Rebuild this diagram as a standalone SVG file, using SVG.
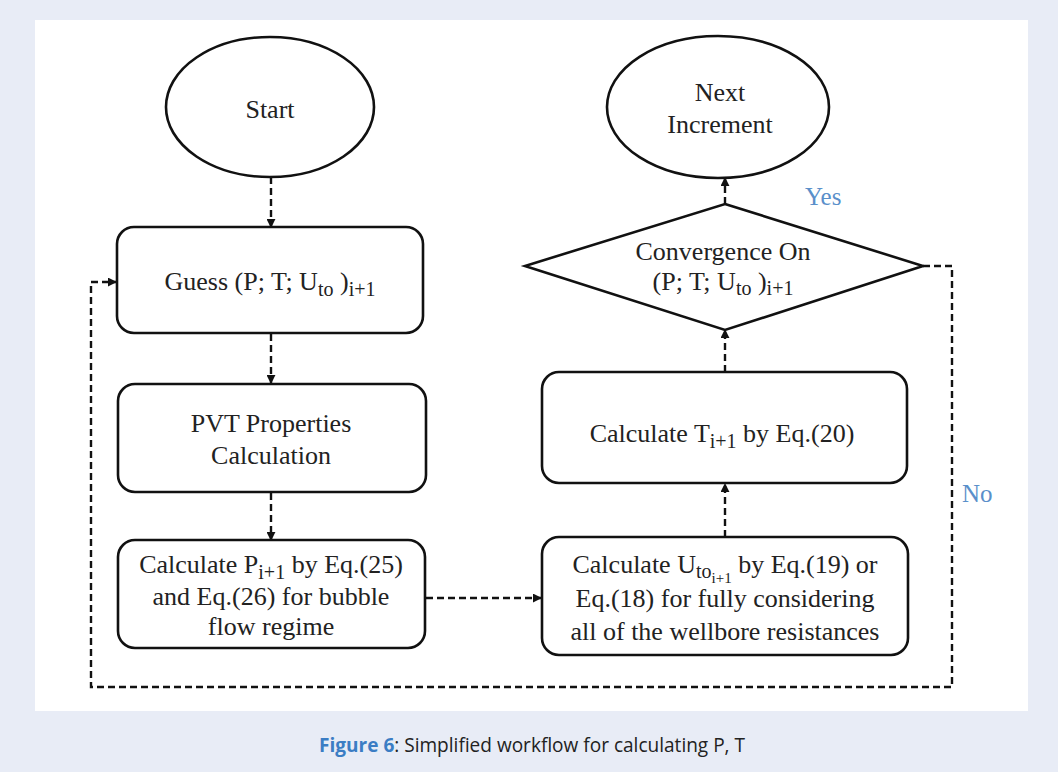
<svg xmlns="http://www.w3.org/2000/svg" width="1058" height="772" viewBox="0 0 1058 772">
<defs>
<style>
.shape{fill:#fff;stroke:#111;stroke-width:2.6}
.t{font-family:"Liberation Serif","Times New Roman",serif;font-size:26px;fill:#222;text-anchor:middle}
.s{font-size:20px}
.ss{font-size:15px}
.lbl{font-family:"Liberation Serif","Times New Roman",serif;font-size:25px;fill:#5a8fca}
.con{fill:none;stroke:#111;stroke-width:2.4;stroke-dasharray:7 4}
</style>
<marker id="ah" viewBox="0 0 10 10" refX="9" refY="5" markerWidth="9" markerHeight="9" markerUnits="userSpaceOnUse" orient="auto">
<path d="M0,0 L10,5 L0,10 z" fill="#111"/>
</marker>
</defs>
<rect x="0" y="0" width="1058" height="772" fill="#e8ecf6"/>
<rect x="35" y="20" width="993" height="691" fill="#fff"/>

<g id="connectors">
<path class="con" d="M271,177 V227" marker-end="url(#ah)"/>
<path class="con" d="M271,334 V383" marker-end="url(#ah)"/>
<path class="con" d="M271,493 V540" marker-end="url(#ah)"/>
<path class="con" d="M426,598 H541" marker-end="url(#ah)"/>
<path class="con" d="M725,537 V484" marker-end="url(#ah)"/>
<path class="con" d="M725,372 V330" marker-end="url(#ah)"/>
<path class="con" d="M725,204 V178" marker-end="url(#ah)"/>
<path class="con" d="M923,266 H952 V687 H91 V282 H116" marker-end="url(#ah)"/>
</g>

<g id="start">
<ellipse class="shape" cx="270" cy="107" rx="104" ry="70"/>
<text class="t" x="270" y="118">Start</text>
</g>

<g id="next">
<ellipse class="shape" cx="718" cy="107" rx="111" ry="71"/>
<text class="t" x="720" y="101">Next</text>
<text class="t" x="720" y="133">Increment</text>
</g>

<g id="guess">
<rect class="shape" x="117" y="227" width="306" height="106" rx="17"/>
<text class="t" x="270" y="290">Guess (P; T; U<tspan class="s" dy="6">to</tspan><tspan dy="-6"> )</tspan><tspan class="s" dy="6">i+1</tspan></text>
</g>

<g id="pvt">
<rect class="shape" x="118" y="384" width="308" height="108" rx="17"/>
<text class="t" x="271" y="432">PVT Properties</text>
<text class="t" x="271" y="464">Calculation</text>
</g>

<g id="calcP">
<rect class="shape" x="118" y="540" width="307" height="108" rx="17"/>
<text class="t" x="271" y="573">Calculate P<tspan class="s" dy="6">i+1</tspan><tspan dy="-6"> by Eq.(25)</tspan></text>
<text class="t" x="271" y="605">and Eq.(26) for bubble</text>
<text class="t" x="271" y="635">flow regime</text>
</g>

<g id="calcU">
<rect class="shape" x="542" y="537" width="366" height="118" rx="17"/>
<text class="t" x="725" y="573">Calculate U<tspan class="s" dy="5">to</tspan><tspan class="ss" dy="5">i+1</tspan><tspan dy="-10"> by Eq.(19) or</tspan></text>
<text class="t" x="725" y="607">Eq.(18) for fully considering</text>
<text class="t" x="725" y="640">all of the wellbore resistances</text>
</g>

<g id="calcT">
<rect class="shape" x="542" y="372" width="365" height="111" rx="17"/>
<text class="t" x="722" y="442">Calculate T<tspan class="s" dy="6">i+1</tspan><tspan dy="-6"> by Eq.(20)</tspan></text>
</g>

<g id="decision">
<polygon class="shape" points="725,204 923,266 725,330 525,266"/>
<text class="t" x="723" y="260">Convergence On</text>
<text class="t" x="723" y="290">(P; T; U<tspan class="s" dy="5">to</tspan><tspan dy="-5"> )</tspan><tspan class="s" dy="5">i+1</tspan></text>
</g>

<text class="lbl" x="805" y="205">Yes</text>
<text class="lbl" x="962" y="502">No</text>

<text x="532" y="752" text-anchor="middle" font-family="Open Sans, sans-serif" font-size="20" fill="#222" textLength="426" lengthAdjust="spacingAndGlyphs"><tspan font-weight="bold" fill="#3b7dc4">Figure 6</tspan>: Simplified workflow for calculating P, T</text>
</svg>
